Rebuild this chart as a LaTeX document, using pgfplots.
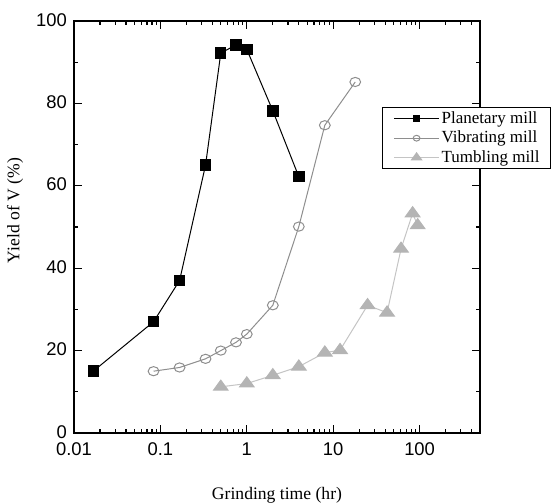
\documentclass[border=0pt]{standalone}
\usepackage{fontspec}
\setmainfont{Liberation Serif}
\newfontfamily\arialf{Liberation Sans}
\usepackage{pgfplots}
\pgfplotsset{compat=1.18}
\definecolor{vibgray}{HTML}{8E8E8E}
\definecolor{tumfill}{HTML}{B4B4B4}
\definecolor{tumline}{HTML}{C4C4C4}

\begin{document}
\begin{tikzpicture}
% fixed page: 553 x 503 px at 0.5pt per px
\useasboundingbox (0,0) rectangle (276.5pt,251.5pt);
\begin{axis}[
    at={(37pt,35pt)}, anchor=south west,
    scale only axis, width=203pt, height=206pt,
    xmode=log, xmin=0.01, xmax=500,
    ymin=0, ymax=100,
    xtick={0.01,0.1,1,10,100},
    xticklabels={0.01,0.1,1,10,100},
    minor xtick={0.02,0.03,0.04,0.05,0.06,0.07,0.08,0.09,
                 0.2,0.3,0.4,0.5,0.6,0.7,0.8,0.9,
                 2,3,4,5,6,7,8,9,20,30,40,50,60,70,80,90,200,300,400},
    ytick={0,20,40,60,80,100},
    yticklabels={0,20,40,60,80,100},
    minor ytick={10,30,50,70,90},
    tick align=inside,
    major tick length=4pt, minor tick length=2.2pt,
    axis line style={line width=0.8pt},
    tick style={line width=0.6pt, black},
    tick label style={font=\arialf\fontsize{9.2}{10}\selectfont},
    xticklabel style={yshift=-1.2pt},
    yticklabel style={yshift=0.6pt},
    /pgf/number format/assume math mode=true,
    xlabel={Grinding time (hr)},
    ylabel={Yield of V (\%)},
    label style={font=\fontsize{8.8}{10}\selectfont},
    xlabel style={at={(axis description cs:0.5,0)}, anchor=center, yshift=-31pt},
    ylabel style={at={(axis description cs:-0.1453,0.54)}, anchor=center},
    legend style={at={(0.7586,0.791)}, anchor=north west, draw=black,
        line width=0.6pt, fill=white, font=\fontsize{8.5}{9.6}\selectfont,
        inner xsep=5.5pt, inner ysep=1.35pt, row sep=1.15pt, column sep=1pt,
        nodes={inner xsep=0pt, inner ysep=0pt, text height=6.5pt, text depth=2pt}},
    legend cell align=left,
    legend image code/.code={%
        \draw[mark repeat=2, mark phase=2, #1]
        plot coordinates {(0pt,0pt) (11.25pt,0pt) (22.5pt,0pt)};},
]

% Planetary mill
\addplot[black, line width=0.5pt, mark=square*, mark size=2.6pt,
         mark options={fill=black, solid},
         legend image post style={mark size=1.5pt}]
    coordinates {(0.0167,15) (0.0833,27) (0.1667,37) (0.333,65) (0.5,92.2)
                 (0.75,94.2) (1,93.1) (2,78.2) (4,62.2)};
\addlegendentry{Planetary mill}

% Vibrating mill
\addplot[vibgray, line width=0.5pt, mark=o, mark size=2.7pt,
         mark options={fill=white, solid, yscale=0.85},
         legend image post style={mark size=1.7pt}]
    coordinates {(0.0833,15) (0.1667,15.9) (0.333,18) (0.5,20) (0.75,22)
                 (1,24) (2,31) (4,50.1) (8,74.7) (18,85.2)};
\addlegendentry{Vibrating mill}

% Tumbling mill
\addplot[tumline, line width=0.5pt, mark=triangle*, mark size=4.2pt,
         mark options={fill=tumfill, draw=tumfill, solid, yscale=0.8},
         legend image post style={mark size=2.9pt}]
    coordinates {(0.5,11.2) (1,12) (2,14) (4,16.1) (8,19.5) (12,20.1)
                 (25,31) (42,29.2) (61,44.7) (83,53.3) (95,50.4)};
\addlegendentry{Tumbling mill}

\end{axis}
\end{tikzpicture}
\end{document}
